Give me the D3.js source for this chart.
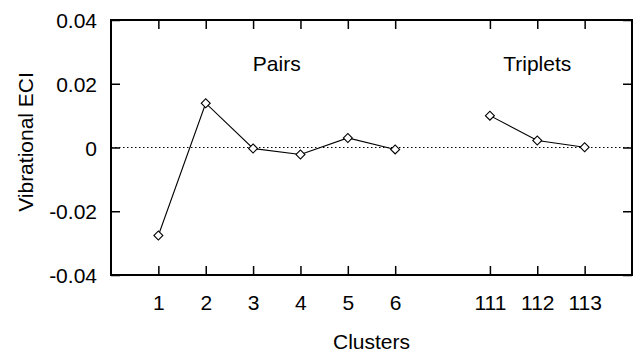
<!DOCTYPE html>
<html>
<head>
<meta charset="utf-8">
<script src="https://cdn.jsdelivr.net/npm/d3@7"></script>
<style>
  body { margin: 0; background: #fff; }
  text { font-family: "Liberation Sans", Arial, sans-serif; fill: #000; }
</style>
</head>
<body>
<script>
// cluster labels and where they sit on the x axis
const pairLabels = ["1", "2", "3", "4", "5", "6"]
const pairPos = [1, 2, 3, 4, 5, 6]
const pairEci = [-0.0276, 0.0139, -0.0003, -0.0022, 0.0030, -0.0006]

const tripLabels = ["111", "112", "113"]
const tripPos = [8, 9, 10]
const tripEci = [0.0100, 0.0022, 0.0001]

const yTicks = [-0.04, -0.02, 0, 0.02, 0.04]

const w = 635
const h = 354
const plotLeft = 111, plotRight = 632, plotTop = 20, plotBottom = 275

const svg = d3.select("body")
  .append("svg")
  .attr("width", w)
  .attr("height", h)

const xScale = d3.scaleLinear()
  .domain([0, 11])
  .range([plotLeft, plotRight])

const yScale = d3.scaleLinear()
  .domain([-0.04, 0.04])
  .range([plotBottom, plotTop])

const yFmt = d => d === 0 ? "0" : d3.format(".2f")(d).replace("−", "-")

// zero line
svg.append("line")
  .attr("x1", plotLeft).attr("x2", plotRight)
  .attr("y1", yScale(0)).attr("y2", yScale(0))
  .attr("stroke", "#000")
  .attr("stroke-width", 1)
  .attr("stroke-dasharray", "1.5,2.5")

// axes, ticks pointing inward on all four sides
const allPos = pairPos.concat(tripPos)
const allLabels = pairLabels.concat(tripLabels)

const xAxis = d3.axisBottom(xScale)
  .tickValues(allPos)
  .tickSize(-9)
  .tickPadding(20)
  .tickFormat((d, i) => allLabels[i])

const xAxisTop = d3.axisTop(xScale)
  .tickValues(allPos)
  .tickSize(-9)
  .tickFormat("")

const yAxis = d3.axisLeft(yScale)
  .tickValues(yTicks)
  .tickSize(-9)
  .tickPadding(14)
  .tickFormat(yFmt)

const yAxisRight = d3.axisRight(yScale)
  .tickValues(yTicks)
  .tickSize(-9)
  .tickFormat("")

function styleAxis(g) {
  g.select(".domain").remove()
  g.selectAll(".tick line").attr("stroke", "#000").attr("stroke-width", 1.5)
  g.selectAll(".tick text")
    .style("font-size", "21px")
    .style("font-family", "'Liberation Sans', Arial, sans-serif")
    .attr("fill", "#000")
}

svg.append("g")
  .attr("transform", "translate(0," + plotBottom + ")")
  .call(xAxis)
  .call(styleAxis)

svg.append("g")
  .attr("transform", "translate(0," + plotTop + ")")
  .call(xAxisTop)
  .call(styleAxis)

svg.append("g")
  .attr("transform", "translate(" + plotLeft + ",0)")
  .call(yAxis)
  .call(styleAxis)
  .selectAll(".tick text")
  .attr("dy", "0.36em")

svg.append("g")
  .attr("transform", "translate(" + plotRight + ",0)")
  .call(yAxisRight)
  .call(styleAxis)

// frame
svg.append("rect")
  .attr("x", plotLeft)
  .attr("y", plotTop)
  .attr("width", plotRight - plotLeft)
  .attr("height", plotBottom - plotTop)
  .attr("fill", "none")
  .attr("stroke", "#000")
  .attr("stroke-width", 2)

// series
const line = d3.line()
  .x(d => xScale(d[0]))
  .y(d => yScale(d[1]))

const series = [
  d3.zip(pairPos, pairEci),
  d3.zip(tripPos, tripEci)
]

series.forEach(s => {
  svg.append("path")
    .datum(s)
    .attr("d", line)
    .attr("fill", "none")
    .attr("stroke", "#000")
    .attr("stroke-width", 1.1)

  svg.selectAll(null)
    .data(s)
    .enter()
    .append("path")
    .attr("d", d3.symbol().type(d3.symbolSquare).size(40))
    .attr("transform", d => "translate(" + xScale(d[0]) + "," + yScale(d[1]) + ") rotate(45)")
    .attr("fill", "#fff")
    .attr("stroke", "#000")
    .attr("stroke-width", 1.1)
})

// group labels
svg.append("text")
  .attr("x", xScale(3.5))
  .attr("y", 71)
  .attr("text-anchor", "middle")
  .style("font-size", "21px")
  .text("Pairs")

svg.append("text")
  .attr("x", xScale(9))
  .attr("y", 71)
  .attr("text-anchor", "middle")
  .style("font-size", "21px")
  .text("Triplets")

// axis titles
svg.append("text")
  .attr("x", xScale(5.5))
  .attr("y", 349)
  .attr("text-anchor", "middle")
  .style("font-size", "21px")
  .text("Clusters")

svg.append("text")
  .attr("transform", "translate(33," + 142 + ") rotate(-90)")
  .attr("text-anchor", "middle")
  .style("font-size", "21px")
  .text("Vibrational ECI")
</script>
</body>
</html>
